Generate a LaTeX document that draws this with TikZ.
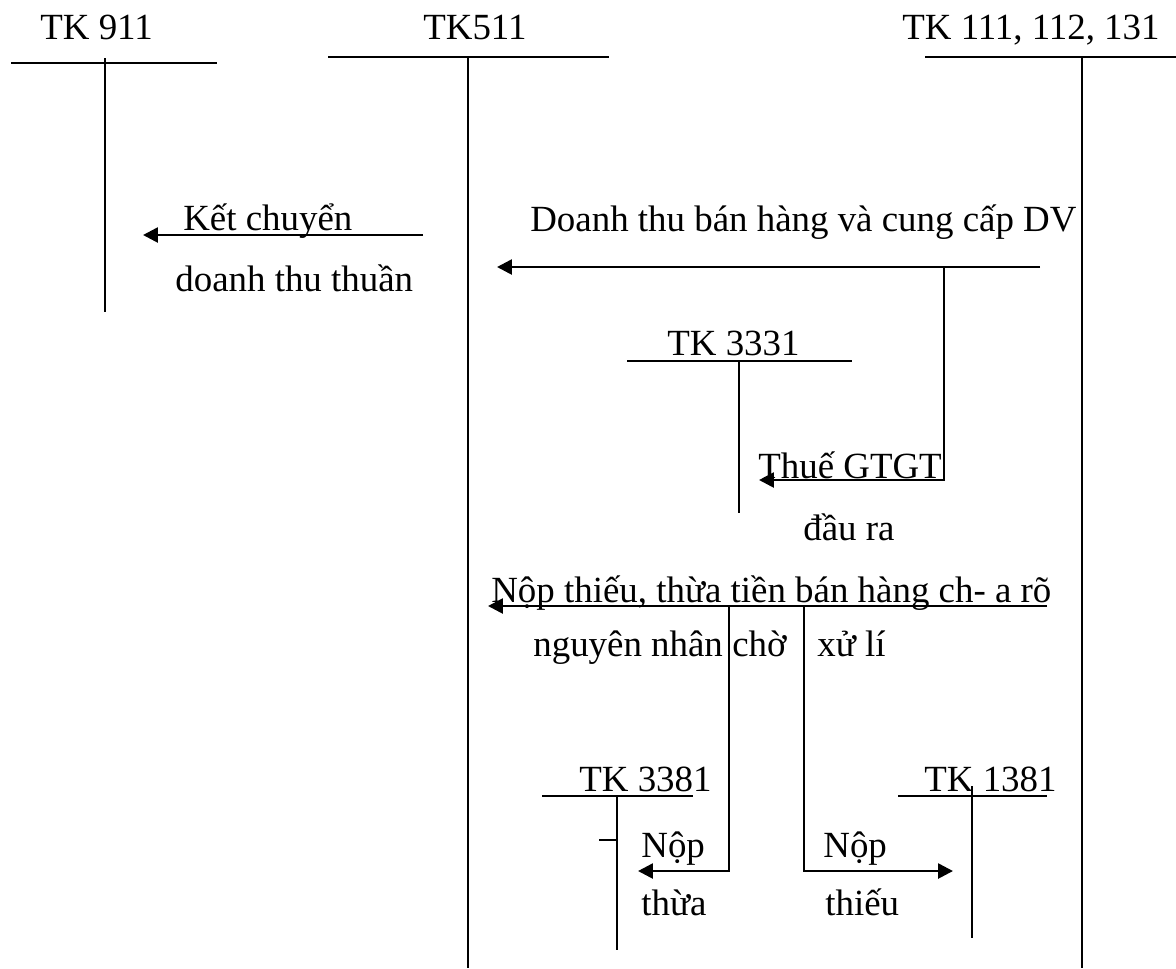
\documentclass[tikz,border=0pt]{standalone}
\usepackage{fontspec}
\setmainfont{Liberation Serif}
\usepackage{tikz}
\usetikzlibrary{arrows.meta, positioning, calc}

\begin{document}
\begin{tikzpicture}[
    x=0.02cm, y=-0.02cm,
    tline/.style={line width=1.1pt},
    arr/.style={-{Triangle[length=8.5pt, width=8.5pt]}, line width=1.5pt},
    lbl/.style={anchor=base west, inner sep=0pt, font=\fontsize{21}{25}\selectfont}
  ]
  \useasboundingbox (0,0) rectangle (1176,968);

  % T accounts
  \node[lbl] (t911) at (40,39) {TK 911};
  \coordinate (t911l) at (11,63);   \coordinate (t911r) at (217,63);
  \coordinate (t911t) at (105,58);  \coordinate (t911b) at (105,312);
  \draw[tline] (t911l) -- (t911r);
  \draw[tline] (t911t) -- (t911b);

  \node[lbl] (t511) at (423,39) {TK511};
  \coordinate (t511l) at (328,57);  \coordinate (t511r) at (609,57);
  \coordinate (t511t) at (468,57);  \coordinate (t511b) at (468,968);
  \draw[tline] (t511l) -- (t511r);
  \draw[tline] (t511t) -- (t511b);

  \node[lbl] (t111) at (902,39) {TK 111, 112, 131};
  \coordinate (t111l) at (925,57);  \coordinate (t111r) at (1176,57);
  \coordinate (t111t) at (1082,57); \coordinate (t111b) at (1082,968);
  \draw[tline] (t111l) -- (t111r);
  \draw[tline] (t111t) -- (t111b);

  \node[lbl] (t3331) at (667,355) {TK 3331};
  \coordinate (t3331l) at (627,361); \coordinate (t3331r) at (852,361);
  \coordinate (t3331t) at (739,361); \coordinate (t3331b) at (739,513);
  \draw[tline] (t3331l) -- (t3331r);
  \draw[tline] (t3331t) -- (t3331b);

  \node[lbl] (t3381) at (579,791) {TK 3381};
  \coordinate (t3381l) at (542,796); \coordinate (t3381r) at (693,796);
  \coordinate (t3381t) at (617,796); \coordinate (t3381b) at (617,950);
  \coordinate (tick) at (599,840);
  \draw[tline] (t3381l) -- (t3381r);
  \draw[tline] (t3381t) -- (t3381b);
  \draw[tline] (tick) -- (t3381t |- tick);

  \node[lbl] (t1381) at (924,791) {TK 1381};
  \coordinate (t1381l) at (898,796); \coordinate (t1381r) at (1047,796);
  \coordinate (t1381t) at (972,786); \coordinate (t1381b) at (972,938);
  \draw[tline] (t1381l) -- (t1381r);
  \draw[tline] (t1381t) -- (t1381b);

  % entries
  \node[lbl] (kc1) at (183,230) {Kết chuyển};
  \node[lbl] (kc2) at (175,291) {doanh thu thuần};
  \coordinate (kcs) at (423,235); \coordinate (kce) at (143,235);
  \draw[arr] (kcs) -- (kce);

  \node[lbl] (dt) at (530,231) {Doanh thu bán hàng và cung cấp DV};
  \coordinate (dts) at (1040,267); \coordinate (dte) at (497,267);
  \draw[arr] (dts) -- (dte);

  \node[lbl] (thue) at (758,478) {Thuế GTGT};
  \node[lbl] (daura) at (803,540) {đầu ra};
  \coordinate (vats) at (944,267); \coordinate (vate) at (759,480);
  \draw[arr] (vats) |- (vate);

  \node[lbl] (nt) at (491,602) {Nộp thiếu, thừa tiền bán hàng ch- a rõ};
  \node[lbl] (nn) at (533,656) {nguyên nhân};
  \node[lbl] (cho) at (732,656) {chờ};
  \node[lbl] (xl) at (817,656) {xử lí};
  \coordinate (nts) at (1047,606); \coordinate (nte) at (488,606);
  \draw[arr] (nts) -- (nte);

  \node[lbl] (nop1) at (641,857) {Nộp};
  \node[lbl] (thua) at (641,915) {thừa};
  \coordinate (thuas) at (729,606); \coordinate (thuae) at (638,871);
  \draw[arr] (thuas) |- (thuae);

  \node[lbl] (nop2) at (823,857) {Nộp};
  \node[lbl] (thieu) at (825,915) {thiếu};
  \coordinate (thieus) at (804,606); \coordinate (thieue) at (953,871);
  \draw[arr] (thieus) |- (thieue);
\end{tikzpicture}
\end{document}
